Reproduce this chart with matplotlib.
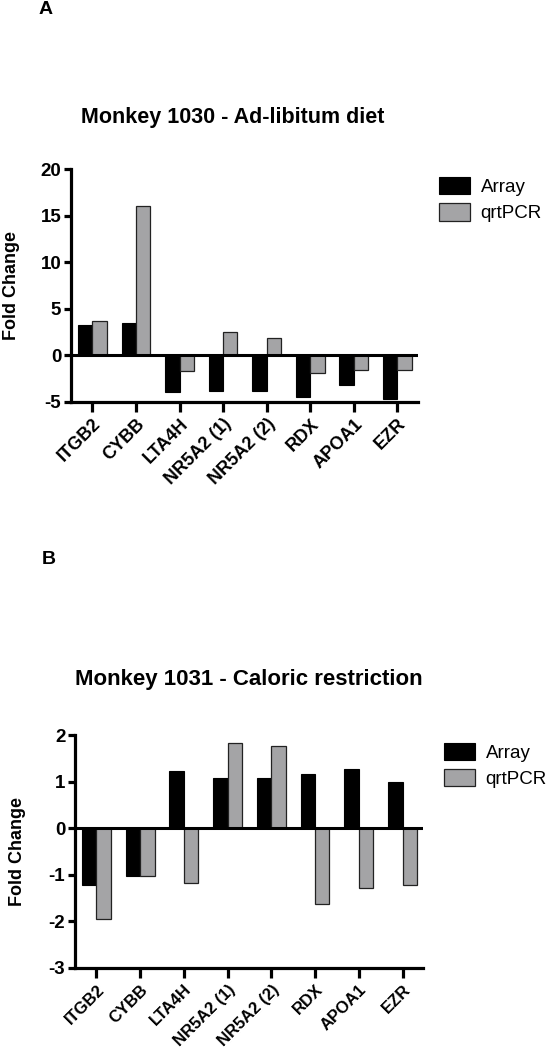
import numpy as np
import matplotlib
matplotlib.use("Agg")
import matplotlib.pyplot as plt

plt.rcParams["font.family"] = ["Liberation Sans", "DejaVu Sans"]

genes = ["ITGB2", "CYBB", "LTA4H", "NR5A2 (1)", "NR5A2 (2)", "RDX", "APOA1", "EZR"]

# Panel A - Monkey 1030, ad-libitum diet
array_a = [3.2, 3.5, -4.0, -3.8, -3.8, -4.5, -3.2, -4.7]
qpcr_a = [3.7, 16.0, -1.7, 2.5, 1.9, -1.9, -1.6, -1.6]

# Panel B - Monkey 1031, caloric restriction
array_b = [-1.22, -1.02, 1.23, 1.08, 1.08, 1.16, 1.28, 0.99]
qpcr_b = [-1.94, -1.02, -1.17, 1.82, 1.77, -1.62, -1.28, -1.21]

BLACK = "#000000"
GRAY = "#a4a4a6"


def draw_panel(ax, arr, qpcr, ylim, yticks, title, title_x, title_size,
               title_pad, ylab_x, xlab_size):
    x = np.arange(len(genes))
    w = 0.33
    ax.bar(x - w / 2, arr, w, color=BLACK, edgecolor=BLACK, linewidth=0.8,
           label="Array", zorder=2)
    ax.bar(x + w / 2, qpcr, w, color=GRAY, edgecolor="#222222", linewidth=0.9,
           label="qrtPCR", zorder=2)
    ax.axhline(0, color="black", linewidth=2.2, zorder=3)

    ax.set_xlim(-0.49, 7.47)
    ax.set_ylim(*ylim)
    ax.set_yticks(yticks)
    ax.set_yticklabels([str(t) for t in yticks], fontsize=13.5, fontweight="bold")
    ax.set_xticks(x)
    ax.set_xticklabels(genes, rotation=45, ha="right", rotation_mode="anchor",
                       fontsize=xlab_size, fontweight="bold")
    ax.set_ylabel("Fold Change", fontsize=13, fontweight="bold")
    ax.yaxis.set_label_coords(ylab_x, 0.5)

    for side in ["top", "right"]:
        ax.spines[side].set_visible(False)
    for side in ["left", "bottom"]:
        ax.spines[side].set_linewidth(2.3)
    ax.tick_params(axis="x", length=7, width=2.3, pad=3)
    ax.tick_params(axis="y", length=5, width=2.3, pad=2)

    ax.set_title(title, fontsize=title_size, fontweight="bold", pad=title_pad,
                 x=title_x)

    ax.legend(loc="upper left", bbox_to_anchor=(1.04, 1.0), frameon=False,
              fontsize=13.5, handlelength=1.65, handleheight=1.05,
              handletextpad=0.55, labelspacing=0.4, borderaxespad=0)


fig = plt.figure(figsize=(5.49, 10.5), dpi=100)

ax1 = fig.add_axes([0.1293, 0.6174, 0.632, 0.2216])
draw_panel(ax1, array_a, qpcr_a, (-5, 20), [-5, 0, 5, 10, 15, 20],
           "Monkey 1030 - Ad-libitum diet", 0.465, 15.5, 33, -0.148, 13)

ax2 = fig.add_axes([0.1366, 0.0781, 0.634, 0.2219])
draw_panel(ax2, array_b, qpcr_b, (-3, 2), [-3, -2, -1, 0, 1, 2],
           "Monkey 1031 - Caloric restriction", 0.5, 16, 36, -0.14, 12)

fig.text(0.071, 0.9905, "A", fontsize=14, fontweight="bold", va="center")
fig.text(0.076, 0.4667, "B", fontsize=14, fontweight="bold", va="center")

fig.savefig("out.png", dpi=100, facecolor="white")
